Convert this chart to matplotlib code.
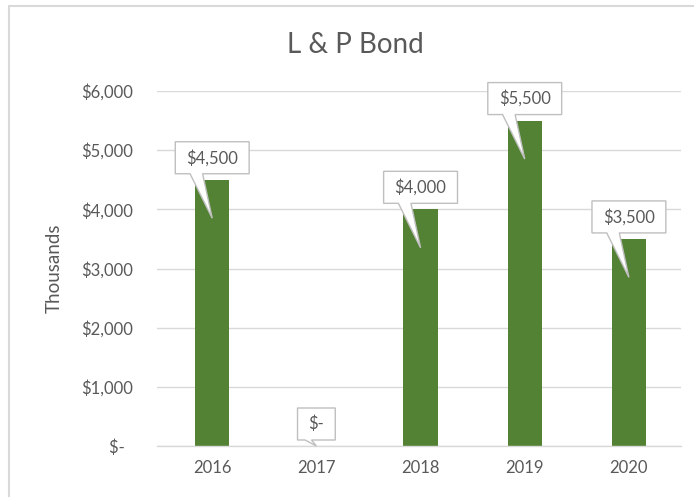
import matplotlib.pyplot as plt
import matplotlib.transforms as mtransforms
from matplotlib.patches import Polygon, Rectangle
import numpy as np

# data
years = ['2016', '2017', '2018', '2019', '2020']
values = [4500, 0, 4000, 5500, 3500]
bar_labels = ['$4,500', '$-', '$4,000', '$5,500', '$3,500']
yticks = [0, 1000, 2000, 3000, 4000, 5000, 6000]
ytick_labels = ['$-  ', '$1,000', '$2,000', '$3,000', '$4,000', '$5,000', '$6,000']

text_color = '#595959'
grid_color = '#d9d9d9'
bar_color = '#548235'

plt.rcParams['font.family'] = ['Lato', 'DejaVu Sans']

fig = plt.figure(figsize=(6.94, 4.97), dpi=100)
ax = fig.add_axes([157 / 694, 1 - 446 / 497, (681 - 157) / 694, (446 - 91) / 497])

x = np.arange(len(years))
ax.bar(x, values, width=0.33, color=bar_color, zorder=2)
ax.set_xlim(-0.53, 4.5)
ax.set_ylim(0, 6000)
ax.set_yticks(yticks, ytick_labels)
ax.set_xticks(x, years)
ax.grid(axis='y', color=grid_color, lw=1, zorder=0)
ax.set_axisbelow(True)
for s in ['top', 'right', 'left']:
    ax.spines[s].set_visible(False)
ax.spines['bottom'].set_color(grid_color)
ax.spines['bottom'].set_linewidth(1)
ax.tick_params(axis='both', length=0, labelsize=12, colors=text_color)
ax.tick_params(axis='y', pad=17)
ax.tick_params(axis='x', pad=10)

ax.set_ylabel('Thousands', fontsize=13.5, color=text_color)
ax.yaxis.set_label_coords((63 - 157) / 524, 0.5)

fig.text(355 / 694, 1 - 53 / 497, 'L & P Bond', ha='center', va='baseline',
         fontsize=20, color=text_color)

# chart border (cut off at right and bottom in the screenshot)
fig.add_artist(Rectangle((9 / 694, -0.1), 1.2, 1.1 - 6 / 497, transform=fig.transFigure,
                         fill=False, ec=grid_color, lw=1.5))

# callout data labels
fig.canvas.draw()
renderer = fig.canvas.get_renderer()
ident = mtransforms.IdentityTransform()
for i, (v, lab) in enumerate(zip(values, bar_labels)):
    bx, by = ax.transData.transform((i, v))
    tx, ty = ax.transData.transform((i, max(v - 650, 0)))
    t = fig.text(bx, by + 22, lab, transform=ident, ha='center', va='center',
                 fontsize=12, color=text_color, zorder=6)
    w = t.get_window_extent(renderer).width + 22
    left, right = bx - w / 2, bx + w / 2
    bot, top = by + 6, by + 38
    b1, b2 = left + 0.2 * w, left + 0.37 * w
    verts = [(left, bot), (b1, bot), (tx, ty), (b2, bot), (right, bot), (right, top), (left, top)]
    fig.add_artist(Polygon(verts, closed=True, transform=ident, fc='white',
                           ec='#bfbfbf', lw=1, zorder=5))

fig.savefig('out.png', dpi=100)
